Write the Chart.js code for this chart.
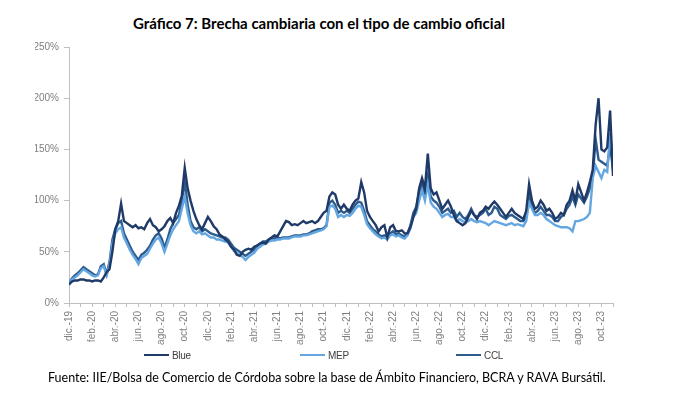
<!DOCTYPE html>
<html lang="es">
<head>
<meta charset="UTF-8">
<title>Gráfico 7: Brecha cambiaria</title>
<script src="https://cdn.jsdelivr.net/npm/chart.js"></script>
<style>
    body { margin: 0; background: #fff; width: 697px; height: 393px; position: relative; overflow: hidden; font-family: Lato, "Open Sans", sans-serif; }
    #titulo { position: absolute; left: 0; top: 14px; width: 638px; text-align: center; font-weight: bold; font-size: 15px; color: #000; }
    #grafico { position: absolute; left: 0; top: 35px; }
    .item { position: absolute; top: 349px; height: 12px; display: flex; align-items: center; font: 10px "Liberation Sans", Arial, sans-serif; color: #404040; letter-spacing: -0.3px; }
    .item .linea { display: inline-block; width: 25px; height: 2px; margin-right: 3px; }
    #fuente { position: absolute; left: 48px; top: 370px; font-size: 12.5px; color: #000; }
</style>
</head>
<body>
<div id="titulo">Gráfico 7: Brecha cambiaria con el tipo de cambio oficial</div>
<canvas id="grafico" width="640" height="315"></canvas>
<div id="leyenda"></div>
<div id="fuente">Fuente: IIE/Bolsa de Comercio de Córdoba sobre la base de Ámbito Financiero, BCRA y RAVA Bursátil.</div>
<script>
// etiquetas del eje X (una cada dos meses, desde dic-19)
const etiquetasX = ['dic.-19', 'feb.-20', 'abr.-20', 'jun.-20', 'ago.-20', 'oct.-20', 'dic.-20',
    'feb.-21', 'abr.-21', 'jun.-21', 'ago.-21', 'oct.-21', 'dic.-21', 'feb.-22', 'abr.-22',
    'jun.-22', 'ago.-22', 'oct.-22', 'dic.-22', 'feb.-23', 'abr.-23', 'jun.-23', 'ago.-23', 'oct.-23'];

// brecha (%) por semana aprox. (4 valores por mes, desde dic-19)
const blue = [
    18, 21, 22, 22,  23, 23, 22, 22,  21, 22, 22, 21,  25, 30, 33, 50,
    72, 80, 97, 80,  78, 76, 74, 76,  73, 74, 72, 78,  82, 76, 74, 70,
    72, 75, 80, 83,  78, 88, 95, 105,  132, 112, 100, 90,  82, 76, 72, 78,
    84, 80, 75, 72,  67, 65, 62, 60,  55, 52, 47, 46,  50, 52, 53, 52,
    55, 56, 58, 59,  58, 62, 64, 66,  65, 70, 75, 80,  79, 76, 77, 76,
    78, 80, 78, 79,  80, 78, 80, 84,  88, 90, 104, 108,  106, 96, 92, 96,
    92, 90, 96, 100,  102, 118, 108, 90,  84, 80, 76, 70,  74, 76, 64, 74,
    76, 70, 70, 71,  68, 68, 74, 84,  92, 112, 122, 112,  146, 112, 106, 108,
    100, 92, 96, 100,  94, 86, 80, 78,  76, 78, 84, 90,  86, 82, 88, 90,
    94, 92, 96, 99,  96, 92, 88, 84,  88, 92, 88, 86,  84, 82, 90, 116,
    100, 92, 94, 100,  96, 90, 92, 88,  82, 84, 88, 86,  96, 100, 110, 100,
    116, 108, 100, 108,  118, 130, 174, 200,  150, 148, 152, 188,  124
];
const mep = [
    20, 23, 25, 27,  30, 33, 31, 29,  27, 26, 27, 34,  36, 27, 37, 58,
    68, 72, 74, 64,  58, 52, 47, 43,  38, 44, 46, 48,  53, 58, 62, 64,
    58, 50, 58, 66,  72, 76, 80, 92,  104, 88, 76, 70,  68, 70, 67, 68,
    66, 64, 64, 62,  62, 61, 60, 59,  55, 51, 49, 47,  45, 42, 45, 47,
    49, 53, 55, 57,  58, 60, 61, 61,  62, 62, 63, 63,  63, 64, 65, 65,
    65, 66, 66, 67,  68, 69, 70, 71,  72, 75, 94, 95,  92, 84, 86, 84,
    86, 85, 88, 92,  95, 94, 86, 77,  73, 70, 67, 65,  63, 64, 62, 66,
    67, 65, 66, 64,  63, 66, 73, 84,  88, 100, 110, 100,  116, 98, 94, 92,
    88, 84, 86, 87,  84, 84, 80, 82,  80, 79, 80, 82,  80, 79, 80, 79,
    78, 76, 78, 80,  79, 78, 77, 76,  77, 78, 76, 77,  76, 75, 80, 98,
    92, 86, 86, 88,  86, 82, 80, 78,  76, 75, 74, 74,  74, 73, 70, 80,
    80, 81, 82, 84,  88, 122, 134, 128,  122, 130, 128, 166,  140
];
const ccl = [
    20, 24, 27, 29,  32, 35, 33, 31,  29, 27, 28, 36,  38, 28, 40, 62,
    72, 78, 80, 68,  62, 56, 50, 46,  42, 47, 49, 52,  56, 62, 66, 68,
    63, 54, 62, 72,  78, 82, 86, 100,  118, 96, 80, 74,  72, 74, 70, 72,
    70, 68, 67, 66,  65, 64, 64, 62,  58, 54, 52, 50,  48, 46, 48, 50,
    52, 56, 58, 60,  60, 62, 63, 63,  64, 63, 64, 64,  64, 65, 66, 66,
    66, 67, 67, 68,  70, 71, 72, 72,  73, 76, 98, 100,  96, 88, 90, 88,
    90, 88, 92, 96,  99, 98, 90, 80,  76, 72, 70, 67,  65, 66, 64, 68,
    70, 67, 68, 66,  65, 68, 76, 88,  94, 108, 116, 106,  124, 104, 100, 98,
    94, 88, 90, 92,  88, 90, 84, 88,  84, 82, 86, 92,  86, 84, 86, 88,
    92, 86, 88, 94,  92, 86, 84, 82,  85, 86, 84, 82,  80, 80, 84, 108,
    94, 88, 90, 94,  90, 86, 86, 84,  80, 80, 84, 86,  92, 96, 104, 96,
    106, 102, 98, 104,  112, 124, 160, 140,  138, 136, 134, 154,  130
];

const series = [
    { label: 'Blue', datos: blue, color: '#1f3a68' },
    { label: 'MEP', datos: mep, color: '#64a6e0' },
    { label: 'CCL', datos: ccl, color: '#2c5b8e' }
];
const legendLeft = [144, 300, 456];
const meses = [];
for (let m = 0; m <= 47; m++) meses.push(m);

const ejeGris = '#bfbfbf';
const textoGris = '#7f7f7f';
const fuenteEje = { family: 'Liberation Sans', size: 10 };

new Chart(document.getElementById('grafico'), {
    type: 'line',
    data: {
        datasets: series.map(s => ({
            label: s.label,
            data: s.datos.map((v, i) => ({ x: i / 4, y: v })),
            borderColor: s.color,
            backgroundColor: s.color,
            borderWidth: 2.4,
            pointRadius: 0,
            tension: 0
        }))
    },
    options: {
        responsive: false,
        devicePixelRatio: 1,
        animation: false,
        layout: { padding: { left: 35, right: 27, top: 12, bottom: 0 } },
        plugins: { legend: { display: false }, tooltip: { enabled: false } },
        scales: {
            x: {
                type: 'linear',
                min: 0,
                max: 47,
                afterBuildTicks: s => { s.ticks = meses.map(v => ({ value: v })); },
                afterFit: s => { s.height = 47; },
                grid: { drawOnChartArea: false, drawTicks: true, tickLength: 4, color: ejeGris },
                border: { color: ejeGris },
                ticks: {
                    autoSkip: false,
                    minRotation: 90,
                    maxRotation: 90,
                    padding: 4,
                    color: textoGris,
                    font: fuenteEje,
                    callback: v => (v % 2 === 0 ? etiquetasX[v / 2] : '')
                }
            },
            y: {
                min: 0,
                max: 250,
                afterFit: s => { s.width = 34; },
                grid: { drawOnChartArea: false, drawTicks: true, tickLength: 5, color: ejeGris },
                border: { color: ejeGris },
                ticks: {
                    stepSize: 50,
                    padding: 5,
                    color: textoGris,
                    font: fuenteEje,
                    callback: v => v + '%'
                }
            }
        }
    }
});

// leyenda
const leyenda = document.getElementById('leyenda');
series.forEach((s, i) => {
    const item = document.createElement('div');
    item.className = 'item';
    item.style.left = legendLeft[i] + 'px';
    item.innerHTML = `<span class="linea" style="background:${s.color}"></span>${s.label}`;
    leyenda.appendChild(item);
});
</script>
</body>
</html>
